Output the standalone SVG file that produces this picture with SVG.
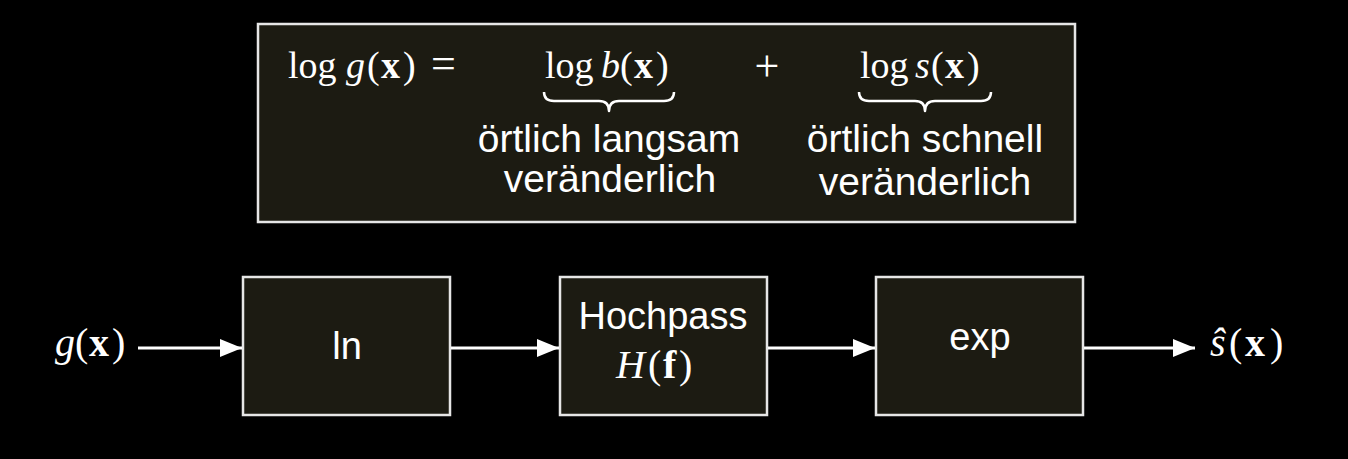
<svg xmlns="http://www.w3.org/2000/svg" width="1348" height="459" viewBox="0 0 1348 459">
<defs>
<style>
.box{fill:#1c1b12;stroke:#e6e6e6;stroke-width:2.5}
.sans{font-family:"Liberation Sans",Arial,sans-serif;fill:#ffffff}
.math{font-family:"Liberation Serif","Times New Roman",serif;fill:#ffffff}
.it{font-style:italic}
.bf{font-weight:bold}
.conn{stroke:#ffffff;stroke-width:3;fill:none}
.brace{stroke:#ffffff;stroke-width:2.5;fill:none;stroke-linejoin:round}
</style>
<marker id="ah" markerUnits="userSpaceOnUse" markerWidth="22" markerHeight="18" refX="22" refY="9" orient="auto">
<path d="M0,0 L22,9 L0,18 z" fill="#ffffff"/>
</marker>
</defs>
<rect width="1348" height="459" fill="#000000"/>

<g id="formula">
<rect class="box" x="258" y="24" width="817" height="198"/>
<text class="math" font-size="38" y="78"><tspan x="288">log</tspan><tspan x="346" class="it">g</tspan><tspan x="367">(</tspan><tspan x="381" class="bf">x</tspan><tspan x="403">)</tspan><tspan x="431" font-size="44">=</tspan></text>
<text class="math" font-size="38" y="78"><tspan x="545">log</tspan><tspan x="601" class="it">b</tspan><tspan x="620">(</tspan><tspan x="634" class="bf">x</tspan><tspan x="656">)</tspan></text>
<path class="brace" d="M544,92 Q544,101 554,101 L599,101 Q609,101 609,111 Q609,101 619,101 L664,101 Q674,101 674,92"/>
<text class="math" font-size="44" x="767" y="81" text-anchor="middle">+</text>
<text class="math" font-size="38" y="78"><tspan x="860">log</tspan><tspan x="915" class="it">s</tspan><tspan x="931">(</tspan><tspan x="945" class="bf">x</tspan><tspan x="967">)</tspan></text>
<path class="brace" d="M859,92 Q859,101 869,101 L915,101 Q925,101 925,111 Q925,101 935,101 L981,101 Q991,101 991,92"/>
<text class="sans" font-size="39" x="609" y="152" text-anchor="middle">örtlich langsam</text>
<text class="sans" font-size="39" x="610" y="192" text-anchor="middle">veränderlich</text>
<text class="sans" font-size="39" x="925" y="152" text-anchor="middle">örtlich schnell</text>
<text class="sans" font-size="39" x="925" y="195" text-anchor="middle">veränderlich</text>
</g>

<g id="input">
<text class="math" font-size="40" y="356"><tspan x="55" class="it">g</tspan><tspan x="75">(</tspan><tspan x="89" class="bf">x</tspan><tspan x="112">)</tspan></text>
</g>

<g id="ln">
<rect class="box" x="243" y="277" width="207" height="138"/>
<text class="sans" font-size="38" x="347" y="359" text-anchor="middle">ln</text>
</g>

<g id="hochpass">
<rect class="box" x="560" y="277" width="207" height="138"/>
<text class="sans" font-size="38" x="663" y="329" text-anchor="middle">Hochpass</text>
<text class="math" font-size="40" y="378"><tspan x="616" class="it">H</tspan><tspan x="648">(</tspan><tspan x="663" class="bf">f</tspan><tspan x="679">)</tspan></text>
</g>

<g id="exp">
<rect class="box" x="876" y="277" width="207" height="138"/>
<text class="sans" font-size="38" x="980" y="350" text-anchor="middle">exp</text>
</g>

<g id="output">
<text class="math" font-size="40" y="356"><tspan x="1210" class="it">ŝ</tspan><tspan x="1229">(</tspan><tspan x="1245" class="bf">x</tspan><tspan x="1270">)</tspan></text>
</g>

<g id="connectors">
<line class="conn" x1="138" y1="348" x2="242" y2="348" marker-end="url(#ah)"/>
<line class="conn" x1="451" y1="348" x2="559" y2="348" marker-end="url(#ah)"/>
<line class="conn" x1="768" y1="348" x2="875" y2="348" marker-end="url(#ah)"/>
<line class="conn" x1="1084" y1="348" x2="1195" y2="348" marker-end="url(#ah)"/>
</g>
</svg>
